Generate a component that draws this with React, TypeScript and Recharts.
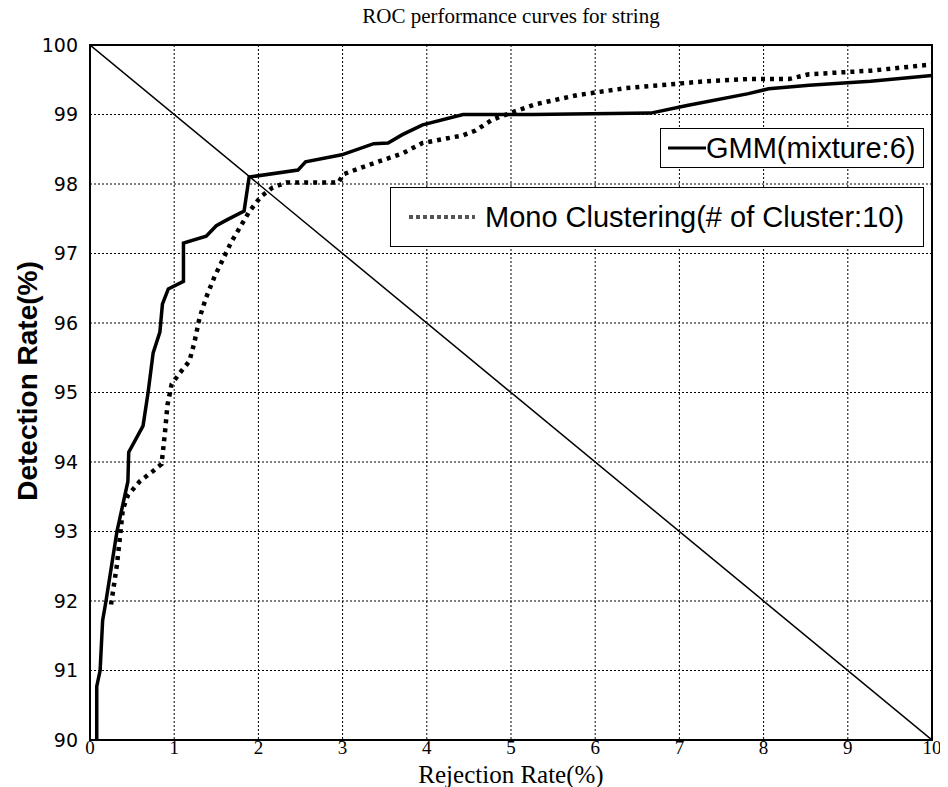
import {
  CartesianGrid,
  Line,
  LineChart,
  ReferenceArea,
  XAxis,
  YAxis,
} from "recharts";

// values (rejection rate %, detection rate %)
const gmmX = [
  0.08, 0.08, 0.12, 0.15, 0.19, 0.32, 0.45, 0.46, 0.63, 0.69, 0.75, 0.83,
  0.86, 0.93, 1.11, 1.11, 1.38, 1.5, 1.62, 1.83, 1.89, 2.47, 2.56, 2.99, 3.37,
  3.54, 3.71, 3.95, 4.43, 5.26, 6.66, 7.09, 7.82, 8.06, 8.54, 9.27, 10,
];
const gmmY = [
  90, 90.77, 91.0, 91.72, 92.0, 93.0, 93.72, 94.14, 94.52, 95.0, 95.57, 95.87,
  96.27, 96.49, 96.6, 97.15, 97.25, 97.4, 97.48, 97.61, 98.1, 98.2, 98.32,
  98.42, 98.58, 98.59, 98.71, 98.85, 99.0, 99.0, 99.02, 99.13, 99.3, 99.37,
  99.42, 99.48, 99.56,
];

const monoX = [
  0.25, 0.32, 0.36, 0.39, 0.45, 0.59, 0.75, 0.85, 0.89, 0.92, 0.97, 1.06,
  1.18, 1.24, 1.3, 1.38, 1.48, 1.58, 1.68, 1.89, 2.03, 2.17, 2.33, 2.95, 3.01,
  3.23, 3.71, 3.95, 4.43, 4.58, 4.77, 5.01, 5.3, 5.79, 6.37, 6.85, 7.33, 7.82,
  8.3, 8.54, 9.27, 10,
];
const monoY = [
  91.95, 92.52, 92.97, 93.32, 93.52, 93.72, 93.87, 93.97, 94.42, 94.82, 95.12,
  95.27, 95.45, 95.72, 96.07, 96.37, 96.67, 96.92, 97.17, 97.6, 97.82, 97.95,
  98.02, 98.02, 98.14, 98.24, 98.44, 98.59, 98.7, 98.77, 98.92, 99.03, 99.15,
  99.28, 99.38, 99.43, 99.48, 99.51, 99.51, 99.58, 99.63, 99.72,
];

const diagX = [0, 10];
const diagY = [100, 90];

const xTicks = [0, 1, 2, 3, 4, 5, 6, 7, 8, 9, 10];
const yTicks = [90, 91, 92, 93, 94, 95, 96, 97, 98, 99, 100];

const toPoints = (xs: number[], ys: number[]) =>
  xs.map((x, i) => ({ x, y: ys[i] }));

const gmmData = toPoints(gmmX, gmmY);
const monoData = toPoints(monoX, monoY);
const diagData = toPoints(diagX, diagY);

const serif = '"Liberation Serif", "Times New Roman", serif';
const sans = '"Liberation Sans", Arial, sans-serif';

export default function App() {
  return (
    <div style={{ position: "relative", width: 940, height: 779, background: "#fff" }}>
      <div
        style={{
          position: "absolute",
          left: 82,
          width: 842,
          top: -4,
          lineHeight: "24px",
          textAlign: "center",
          fontFamily: serif,
          fontSize: 21,
          color: "#000",
        }}
      >
        ROC performance curves for string
      </div>

      <LineChart
        width={940}
        height={779}
        margin={{ top: 37, right: 16, bottom: 22, left: 22 }}
        style={{ overflow: "visible" }}
      >
        <CartesianGrid
          stroke="#000"
          strokeDasharray="2 2"
          strokeWidth={1}
        />
        <XAxis
          type="number"
          dataKey="x"
          domain={[0, 10]}
          ticks={xTicks}
          height={25}
          axisLine={false}
          tickLine={false}
          tickSize={0}
          tickMargin={1}
          tick={{ fill: "#000", fontFamily: serif, fontSize: 19 }}
          allowDataOverflow
        />
        <YAxis
          type="number"
          dataKey="y"
          domain={[90, 100]}
          ticks={yTicks}
          width={60}
          axisLine={false}
          tickLine={false}
          tickSize={0}
          tickMargin={12}
          tick={{ fill: "#000", fontFamily: '"DejaVu Sans", Verdana, sans-serif', fontSize: 19 }}
          allowDataOverflow
        />
        <Line
          data={diagData}
          dataKey="y"
          stroke="#000"
          strokeWidth={1.5}
          dot={false}
          isAnimationActive={false}
        />
        <Line
          data={monoData}
          dataKey="y"
          stroke="#000"
          strokeWidth={4.5}
          strokeDasharray="4 5"
          dot={false}
          isAnimationActive={false}
        />
        <Line
          data={gmmData}
          dataKey="y"
          stroke="#000"
          strokeWidth={3.5}
          dot={false}
          isAnimationActive={false}
        />
        <ReferenceArea
          x1={0}
          x2={10}
          y1={90}
          y2={100}
          fill="none"
          stroke="#000"
          strokeWidth={2}
        />
      </LineChart>

      <div
        style={{
          position: "absolute",
          left: 0,
          top: 373,
          width: 40,
          height: 0,
        }}
      >
        <div
          style={{
            position: "absolute",
            left: 20,
            top: 0,
            transform: "translate(-50%, -50%) rotate(-90deg)",
            whiteSpace: "nowrap",
            fontFamily: sans,
            fontWeight: 700,
            fontSize: 28,
            color: "#000",
          }}
        >
          Detection Rate(%)
        </div>
      </div>

      <div
        style={{
          position: "absolute",
          left: 82,
          width: 842,
          top: 755,
          lineHeight: "24px",
          textAlign: "center",
          fontFamily: serif,
          fontSize: 25,
          color: "#000",
        }}
      >
        Rejection Rate(%)
      </div>

      <div
        style={{
          position: "absolute",
          left: 652,
          top: 120,
          width: 262,
          height: 38,
          border: "1.5px solid #000",
          background: "#fff",
          display: "flex",
          alignItems: "center",
          fontFamily: sans,
          fontSize: 29,
          color: "#000",
        }}
      >
        <svg width={38} height={10} style={{ marginLeft: 7 }}>
          <line x1={0} y1={5} x2={38} y2={5} stroke="#000" strokeWidth={3} />
        </svg>
        <span>GMM(mixture:6)</span>
      </div>

      <div
        style={{
          position: "absolute",
          left: 382,
          top: 179,
          width: 532,
          height: 58,
          border: "1.5px solid #000",
          background: "#fff",
          display: "flex",
          alignItems: "center",
          fontFamily: sans,
          fontSize: 29,
          color: "#000",
        }}
      >
        <svg width={66} height={10} style={{ marginLeft: 18, marginRight: 10 }}>
          <line
            x1={0}
            y1={5}
            x2={66}
            y2={5}
            stroke="#555"
            strokeWidth={4}
            strokeDasharray="4 3"
          />
        </svg>
        <span>Mono Clustering(# of Cluster:10)</span>
      </div>
    </div>
  );
}
